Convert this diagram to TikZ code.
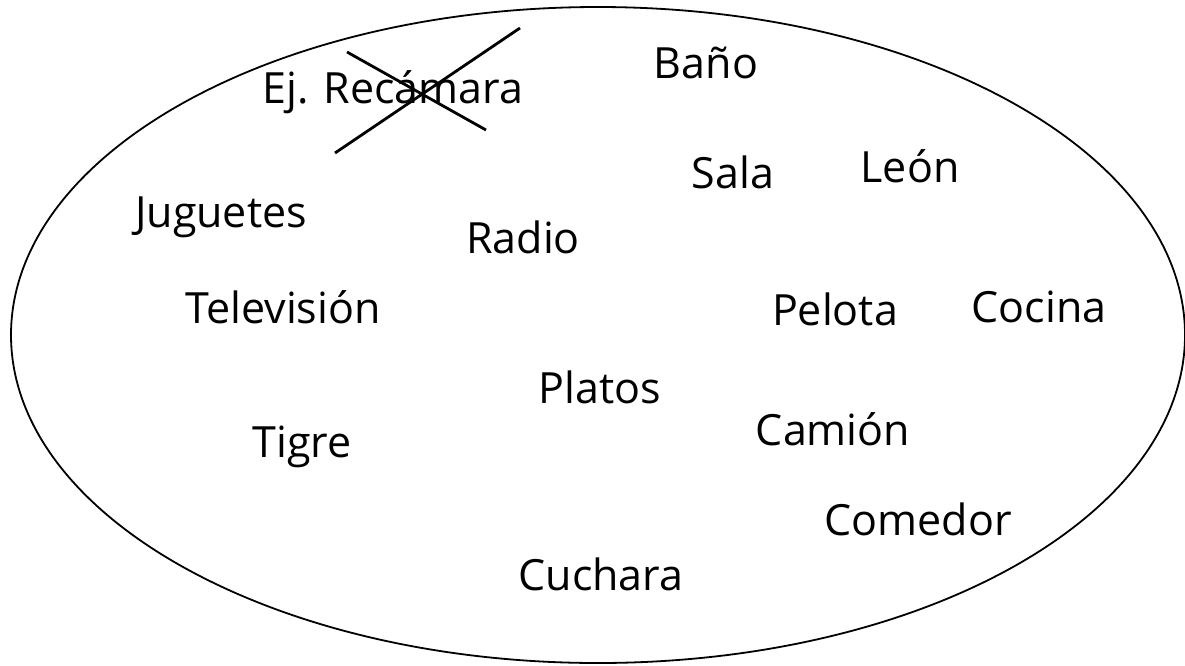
\documentclass[tikz,border=0pt]{standalone}
\usepackage{fontspec}
\setmainfont{Open Sans}
\tikzset{
  word/.style={font=\fontsize{43}{48}\selectfont, inner sep=0pt, anchor=base},
  rim/.style={draw=black, line width=1.8pt},
  cross/.style={draw=black, line width=2.8pt}
}
\begin{document}
\begin{tikzpicture}[x=1pt,y=-1pt]
\useasboundingbox (0,0) rectangle (1185,665);
\draw[rim] (598,335) ellipse [x radius=587, y radius=328];
\node[word] (ej) at (393,103) {Ej. Recámara};
\coordinate (x1a) at (347,52);
\coordinate (x1b) at (486,130);
\coordinate (x2a) at (335,153);
\coordinate (x2b) at (520,28);
\draw[cross] (x1a) -- (x1b);
\draw[cross] (x2a) -- (x2b);
\node[word] (bano) at (706,78) {Baño};
\node[word] (sala) at (733,188) {Sala};
\node[word] (leon) at (910,182) {León};
\node[word] (jug) at (221,227) {Juguetes};
\node[word] (radio) at (523,253) {Radio};
\node[word] (tele) at (283,323) {Televisión};
\node[word] (pelota) at (835,325) {Pelota};
\node[word] (cocina) at (1039,322) {Cocina};
\node[word] (platos) at (600,403) {Platos};
\node[word] (camion) at (833,445) {Camión};
\node[word] (tigre) at (302,457) {Tigre};
\node[word] (comedor) at (918,535) {Comedor};
\node[word] (cuchara) at (601,590) {Cuchara};
\end{tikzpicture}
\end{document}
